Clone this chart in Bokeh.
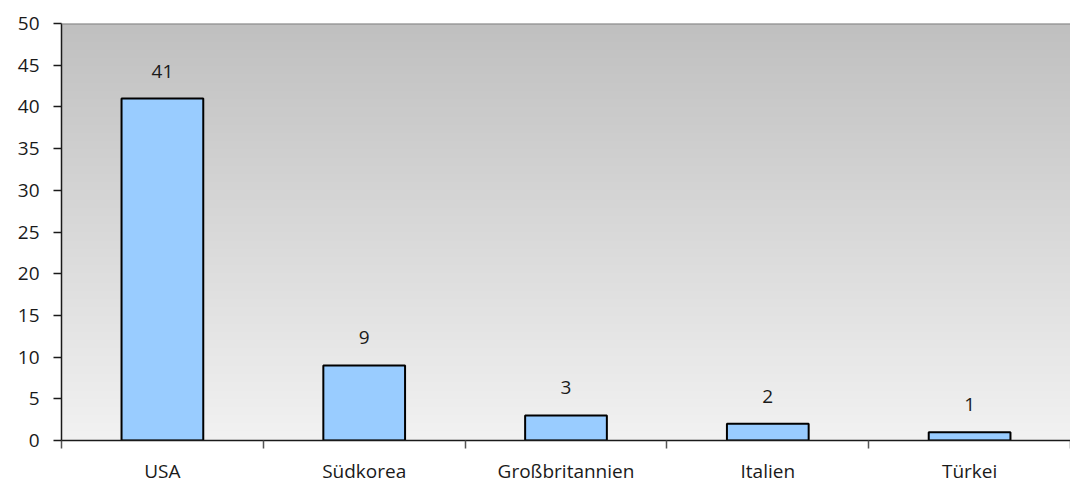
import numpy as np
from bokeh.plotting import figure
from bokeh.models import Range1d, FixedTicker, Span, ColumnDataSource, LabelSet
from bokeh.core.properties import value
from bokeh.embed import file_html
from bokeh.resources import INLINE

# data
categories = ["USA", "Südkorea", "Großbritannien", "Italien", "Türkei"]
values = [41, 9, 3, 2, 1]
y_ticks = [0, 5, 10, 15, 20, 25, 30, 35, 40, 45, 50]

FONT = "Open Sans"
n = len(categories)
xs = [i + 0.5 for i in range(n)]

p = figure(width=1070, height=486, output_backend="svg", toolbar_location=None,
           x_range=Range1d(0, n), y_range=Range1d(0, 50),
           min_border_left=61, min_border_top=23, min_border_right=0, min_border_bottom=45)
p.outline_line_color = None
p.background_fill_color = "white"
p.border_fill_color = "white"
p.xgrid.grid_line_color = None
p.ygrid.grid_line_color = None

# gradient background
N = 256
t = np.linspace(0, 1, N)  # 0 bottom, 1 top
top = np.array([0xC0, 0xC0, 0xC0])
bot = np.array([0xF2, 0xF2, 0xF2])
img = np.empty((N, 1), dtype=np.uint32)
view = img.view(dtype=np.uint8).reshape((N, 1, 4))
for k in range(N):
    c = bot + (top - bot) * t[k]
    view[k, 0, 0] = int(c[0]); view[k, 0, 1] = int(c[1]); view[k, 0, 2] = int(c[2]); view[k, 0, 3] = 255
p.image_rgba(image=[img], x=0, y=0, dw=n, dh=50)

src = ColumnDataSource(dict(x=xs, top=values, lab=[str(v) for v in values]))
p.vbar(x="x", top="top", bottom=0, width=0.405, source=src,
       fill_color="#99CCFF", line_color="black", line_width=2)

labels = LabelSet(x="x", y="top", text="lab", source=src, text_align="center",
                  text_baseline="alphabetic", y_offset=21, text_font=value(FONT),
                  text_font_size="19px", text_color="#1a1a1a")
p.add_layout(labels)

p.add_layout(Span(location=50, dimension="width", line_color="#808080", line_width=2))

# y axis
ya = p.yaxis[0]
ya.ticker = FixedTicker(ticks=y_ticks, minor_ticks=[])
ya.axis_line_color = "#1a1a1a"
ya.axis_line_width = 1.5
ya.major_tick_line_color = "#1a1a1a"
ya.major_tick_line_width = 1.5
ya.major_tick_out = 8
ya.major_tick_in = 0
ya.minor_tick_line_color = None
ya.major_label_standoff = 14
ya.major_label_text_font = FONT
ya.major_label_text_font_size = "19px"
ya.major_label_text_color = "#1a1a1a"

# x axis
xa = p.xaxis[0]
xa.ticker = FixedTicker(ticks=xs, minor_ticks=list(range(n + 1)))
xa.major_label_overrides = {x: c for x, c in zip(xs, categories)}
xa.axis_line_color = "#1a1a1a"
xa.axis_line_width = 1.5
xa.major_tick_line_color = None
xa.major_tick_out = 8
xa.major_tick_in = 0
xa.minor_tick_line_color = "#555555"
xa.minor_tick_line_width = 1.5
xa.minor_tick_out = 8
xa.minor_tick_in = 0
xa.major_label_standoff = 9
xa.major_label_text_font = FONT
xa.major_label_text_font_size = "19px"
xa.major_label_text_color = "#1a1a1a"

open("out.html", "w").write(file_html(p, INLINE))
